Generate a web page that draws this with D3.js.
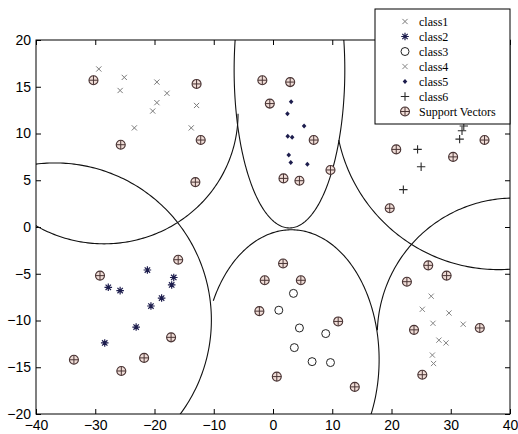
<!DOCTYPE html>
<html>
<head>
<meta charset="utf-8">
<script src="https://cdnjs.cloudflare.com/ajax/libs/d3/7.8.5/d3.min.js"></script>
<style>
    body { margin: 0; background: #fff; }
</style>
</head>
<body>
<div id="chart"></div>
<script>
// Points, [x, y]
const class1 = [[-29.4, 16.9], [-25.1, 16.0], [-19.6, 15.5], [-25.8, 14.6], [-17.9, 14.3],
                [-19.6, 13.3], [-20.3, 12.4], [-12.9, 13.0], [-23.4, 10.6], [-13.8, 10.6]];
const class2 = [[-21.2, -4.6], [-16.75, -5.4], [-17.1, -6.2], [-27.8, -6.45], [-25.8, -6.8],
                [-18.8, -7.6], [-20.6, -8.45], [-23.1, -10.7], [-28.4, -12.4]];
const class3 = [[3.45, -7.1], [0.98, -8.9], [4.46, -10.8], [8.9, -11.4], [3.6, -12.9],
                [6.6, -14.4], [9.7, -14.5]];
const class4 = [[26.7, -7.4], [25.2, -8.8], [29.7, -9.2], [27.0, -10.3], [32.1, -10.4],
                [28.0, -12.1], [29.2, -12.4], [26.9, -13.7], [27.1, -14.6]];
const class5 = [[3.06, 13.4], [2.44, 12.1], [5.25, 10.8], [2.49, 9.7], [3.23, 9.6],
                [2.66, 7.7], [3.0, 6.9], [5.8, 6.7]];
const class6 = [[32.2, 10.8], [31.9, 10.3], [31.5, 9.4], [24.4, 8.3], [25.0, 6.45], [22.0, 4.0]];
const supportVectors = [
    [-30.3, 15.7], [-12.9, 15.3], [-25.7, 8.8], [-12.2, 9.3], [-13.1, 4.8],
    [-1.8, 15.7], [2.9, 15.5], [-0.54, 13.2], [6.87, 9.3], [1.77, 5.2], [4.46, 4.95], [9.7, 6.1],
    [20.8, 8.3], [30.4, 7.5], [35.7, 9.3], [19.7, 2.0],
    [-16.0, -3.5], [-29.2, -5.2], [-17.2, -11.8], [-33.6, -14.2], [-21.75, -14.0], [-25.6, -15.4],
    [1.7, -3.9], [-1.4, -5.7], [4.7, -5.7], [-2.3, -9.0], [11.0, -10.1], [0.64, -16.0], [13.8, -17.1],
    [26.2, -4.1], [29.3, -5.2], [22.6, -5.85], [23.8, -11.0], [34.9, -10.8], [25.2, -15.8]
];

// Class boundaries: ellipse centre / radii in data units, visible arc in degrees
const boundaries = [
    { cx: -28.5, cy: 12.1,   rx: 22.6, ry: 13.9,  from: -180, to: 0 },
    { cx: -36.8, cy: -9.95,  rx: 26.4, ry: 16.8,  from: -180, to: 180 },
    { cx: 2.78,  cy: 16.8,   rx: 9.34, ry: 16.9,  from: -180, to: 180 },
    { cx: 38.1,  cy: 12.94,  rx: 27.6, ry: 17.5,  from: 192,  to: 360 },
    { cx: 3.11,  cy: -14.2,  rx: 14.8, ry: 13.9,  from: -90,  to: 153 },
    { cx: 40.7,  cy: -11.55, rx: 23.1, ry: 14.65, from: 0,    to: 178 }
];

const xTicks = [-40, -30, -20, -10, 0, 10, 20, 30, 40];
const yTicks = [-20, -15, -10, -5, 0, 5, 10, 15, 20];
const legendLabels = ["class1", "class2", "class3", "class4", "class5", "class6", "Support Vectors"];
const legendTypes = ["x1", "star", "circle", "x4", "dot", "plus", "sv"];

// Dimensions
const width = 518, height = 434;
const margin = { top: 40, right: 8, bottom: 20, left: 36 };

const svg = d3.select("#chart")
              .append("svg")
              .attr("width", width)
              .attr("height", height);

const x = d3.scaleLinear().domain([-40, 40]).range([margin.left, width - margin.right]);
const y = d3.scaleLinear().domain([-20, 20]).range([height - margin.bottom, margin.top]);

svg.append("clipPath")
   .attr("id", "plot-clip")
   .append("rect")
   .attr("x", margin.left)
   .attr("y", margin.top)
   .attr("width", width - margin.left - margin.right)
   .attr("height", height - margin.top - margin.bottom);

// Axes, MATLAB style ticks pointing inwards
const fontAxis = "'Liberation Sans', Arial, sans-serif";

function styleAxis(g) {
    g.select(".domain").remove();
    g.selectAll(".tick line").attr("stroke", "#000");
    g.selectAll("text").attr("fill", "#000").style("font-size", "14px").style("font-family", fontAxis);
}

svg.append("g")
   .attr("transform", `translate(0,${height - margin.bottom})`)
   .call(d3.axisBottom(x).tickValues(xTicks).tickSize(-5).tickPadding(6))
   .call(styleAxis);

svg.append("g")
   .attr("transform", `translate(0,${margin.top})`)
   .call(d3.axisTop(x).tickValues(xTicks).tickSize(-5).tickFormat(""))
   .call(styleAxis);

svg.append("g")
   .attr("transform", `translate(${margin.left},0)`)
   .call(d3.axisLeft(y).tickValues(yTicks).tickSize(-5).tickPadding(5))
   .call(styleAxis);

svg.append("g")
   .attr("transform", `translate(${width - margin.right},0)`)
   .call(d3.axisRight(y).tickValues(yTicks).tickSize(-5).tickFormat(""))
   .call(styleAxis);

// Boundary curves
const curve = d3.line()
                .x(d => x(d[0]))
                .y(d => y(d[1]));

svg.append("g")
   .attr("clip-path", "url(#plot-clip)")
   .selectAll("path")
   .data(boundaries)
   .enter().append("path")
   .attr("d", b => curve(d3.range(b.from, b.to + 0.5, 1).map(a => {
        const t = a * Math.PI / 180;
        return [b.cx + b.rx * Math.cos(t), b.cy + b.ry * Math.sin(t)];
   })))
   .attr("fill", "none")
   .attr("stroke", "#111")
   .attr("stroke-width", 1.1);

// Marker shapes
function drawMarker(g, type) {
    if (type === "x1" || type === "x4") {
        g.append("path").attr("d", "M-2.6,-2.6L2.6,2.6M-2.6,2.6L2.6,-2.6")
         .attr("stroke", type === "x1" ? "#7a7a7a" : "#858585").attr("stroke-width", 1);
    } else if (type === "star") {
        g.append("path").attr("d", "M-3.8,0H3.8M0,-3.8V3.8M-2.7,-2.7L2.7,2.7M-2.7,2.7L2.7,-2.7")
         .attr("stroke", "#1d1d4d").attr("stroke-width", 1.2);
    } else if (type === "circle") {
        g.append("circle").attr("r", 4).attr("fill", "none")
         .attr("stroke", "#222").attr("stroke-width", 1);
    } else if (type === "dot") {
        g.append("path").attr("d", "M0,-2.5L2.3,0L0,2.5L-2.3,0Z").attr("fill", "#1d1d4d");
    } else if (type === "plus") {
        g.append("path").attr("d", "M-4.2,0H4.2M0,-4.2V4.2")
         .attr("stroke", "#2a2a2a").attr("stroke-width", 1.1);
    } else if (type === "sv") {
        g.append("circle").attr("r", 4.5).attr("fill", "#f0ddd7")
         .attr("stroke", "#4a3535").attr("stroke-width", 1.1);
        g.append("path").attr("d", "M-4.5,0H4.5M0,-4.5V4.5")
         .attr("stroke", "#4a3535").attr("stroke-width", 1);
    }
}

const layers = [
    [class1, "x1"], [class2, "star"], [class3, "circle"],
    [class4, "x4"], [class5, "dot"], [class6, "plus"], [supportVectors, "sv"]
];

layers.forEach(([points, type]) => {
    svg.append("g")
       .selectAll("g")
       .data(points)
       .enter().append("g")
       .attr("transform", d => `translate(${x(d[0])},${y(d[1])})`)
       .each(function() { drawMarker(d3.select(this), type); });
});

// Plot box
svg.append("rect")
   .attr("x", margin.left)
   .attr("y", margin.top)
   .attr("width", width - margin.left - margin.right)
   .attr("height", height - margin.top - margin.bottom)
   .attr("fill", "none")
   .attr("stroke", "#000");

// Legend
const legend = svg.append("g").attr("transform", "translate(375,9)");

legend.append("rect")
      .attr("width", width - margin.right - 375)
      .attr("height", 115)
      .attr("fill", "#fff")
      .attr("stroke", "#000");

const rows = legend.selectAll(".row")
                   .data(legendLabels)
                   .enter().append("g")
                   .attr("class", "row")
                   .attr("transform", (d, i) => `translate(0,${12.5 + i * 15})`);

rows.each(function(d, i) {
    drawMarker(d3.select(this).append("g").attr("transform", "translate(30,0)"), legendTypes[i]);
});

rows.append("text")
    .attr("x", 44)
    .attr("dy", "0.35em")
    .style("font-family", "'Liberation Serif', 'Times New Roman', serif")
    .style("font-size", "12px")
    .attr("fill", "#000")
    .text(d => d);
</script>
</body>
</html>
